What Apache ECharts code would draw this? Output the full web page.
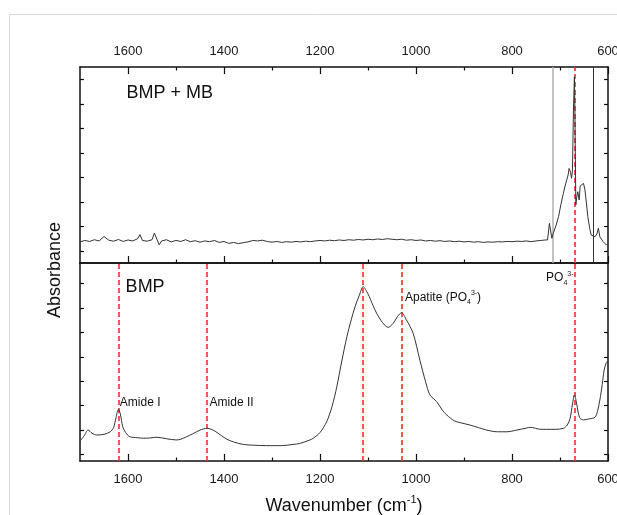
<!DOCTYPE html>
<html>
<head>
<meta charset="utf-8">
<script src="https://cdn.jsdelivr.net/npm/echarts@6/dist/echarts.min.js"></script>
<style>
html,body{margin:0;padding:0;background:#fff;}
#c{width:617px;height:515px;}
</style>
</head>
<body>
<div id="c"></div>
<script>
// ---------- data ----------
const xMajorTicks = [1600, 1400, 1200, 1000, 800, 600];
const xMinorTicks = [1500, 1300, 1100, 900, 700];
const yTicksTop = [0.5, 1.5, 2.5, 3.5, 4.5, 5.5, 6.5, 7.5];
const yTicksBottom = [0.27, 1.26, 2.24, 3.23, 4.21, 5.2, 6.18, 7.17];

// BMP + MB spectrum (wavenumber, absorbance)
const bmpMbWave = [1700,1690,1680,1670,1660,1650,1640,1630,1620,1610,1600,1590,1580,1575,1570,1560,1550,1545,1540,1535,1530,1520,1510,1500,1490,1480,1470,1460,1450,1440,1430,1420,1410,1400,1390,1380,1370,1360,1350,1340,1330,1320,1310,1300,1290,1280,1270,1260,1250,1240,1230,1220,1210,1200,1190,1180,1170,1160,1150,1140,1130,1120,1110,1100,1090,1080,1070,1060,1050,1040,1030,1020,1010,1000,990,980,970,960,950,940,930,920,910,900,890,880,870,860,850,840,830,820,810,800,790,780,770,760,750,740,731,726,722,717,714,708,703,698,693,690,686,683,681,678,676,674,672,670,669,667,665,663,660,658,654,651,648,645,642,638,635,631,627,623,620,617,613,610,606,603,600];
const bmpMbAbs = [0.86,0.92,0.88,0.95,0.90,1.08,0.93,0.89,0.96,0.88,0.94,0.90,0.99,1.16,0.92,0.89,0.95,1.22,0.98,0.74,0.90,0.95,0.86,0.92,0.88,0.95,0.87,0.91,0.85,0.90,0.87,0.92,0.84,0.88,0.80,0.84,0.79,0.83,0.86,0.92,0.90,0.93,0.88,0.85,0.88,0.84,0.87,0.85,0.88,0.86,0.89,0.87,0.90,0.92,0.90,0.93,0.91,0.94,0.92,0.95,0.93,0.96,0.94,0.97,0.95,0.98,0.96,0.99,0.97,0.95,0.97,0.93,0.95,0.92,0.94,0.90,0.92,0.89,0.91,0.88,0.90,0.87,0.89,0.86,0.88,0.85,0.87,0.84,0.86,0.85,0.87,0.86,0.88,0.87,0.89,0.88,0.90,0.87,0.90,0.92,0.94,0.94,1.62,1.01,1.21,1.55,1.89,2.40,2.84,3.10,3.39,3.60,3.86,3.70,3.46,3.80,6.24,7.60,6.24,2.37,2.70,2.91,2.57,3.14,3.20,3.25,2.98,2.45,1.89,1.40,1.14,1.08,1.07,1.20,1.42,1.07,1.14,0.87,0.94,0.73,0.80];

// BMP spectrum (wavenumber, absorbance)
const bmpWave = [1700,1692,1683,1675,1665,1650,1637,1630,1625,1620,1616,1611,1605,1596,1580,1568,1555,1540,1520,1499,1490,1478,1465,1450,1435,1420,1405,1394,1380,1360,1340,1311,1280,1256,1242,1221,1214,1200,1186,1175,1165,1155,1144,1135,1127,1118,1110,1100,1090,1082,1070,1058,1048,1038,1030,1020,1006,992,980,971,957,945,936,920,908,887,870,853,830,811,790,770,762,740,728,710,693,685,679,674,670,666,662,658,651,640,627,622,617,612,608,604,600];
const bmpAbs = [0.81,1.00,1.25,1.12,1.05,1.08,1.18,1.35,1.75,2.09,1.90,1.39,1.15,0.98,0.94,0.92,0.93,0.96,0.90,0.85,0.88,0.98,1.10,1.25,1.32,1.22,1.02,0.88,0.77,0.67,0.64,0.62,0.62,0.67,0.71,0.85,0.92,1.15,1.59,2.20,3.00,4.00,5.02,5.70,6.23,6.70,7.04,6.75,6.30,5.97,5.60,5.40,5.55,5.85,5.99,5.70,5.16,4.08,3.20,2.67,2.40,2.05,1.86,1.62,1.55,1.45,1.35,1.25,1.18,1.18,1.25,1.33,1.36,1.28,1.28,1.28,1.32,1.45,1.72,2.30,2.67,2.40,1.95,1.72,1.66,1.70,1.77,2.00,2.46,3.10,3.68,3.95,4.05];

// reference lines
const topGreyLine = 715;
const topBlackLine = 631;
const bandPO4 = 669;
const bottomBands = [1620, 1435, 1110, 1030, 669];

// ---------- chart ----------
const FONT = '"Liberation Sans", Arial, sans-serif';
const chart = echarts.init(document.getElementById('c'), null, {renderer: 'canvas'});

const zip = (a, b) => a.map((v, i) => [v, b[i]]);

function xAx(grid, pos, opts) {
  return Object.assign({
    type: 'value', gridIndex: grid, position: pos, min: 600, max: 1700, inverse: true,
    splitLine: {show: false},
    axisLine: {show: true, onZero: false, lineStyle: {color: '#111', width: 1.5}},
    axisTick: {show: true, inside: true, length: 7, customValues: xMajorTicks, lineStyle: {color: '#111', width: 1.2}},
    axisLabel: {show: false}
  }, opts);
}
function xMinor(grid, pos) {
  return {
    type: 'value', gridIndex: grid, position: pos, min: 600, max: 1700, inverse: true,
    splitLine: {show: false},
    axisLine: {show: false, onZero: false},
    axisTick: {show: true, inside: true, length: 3.5, customValues: xMinorTicks, lineStyle: {color: '#111', width: 1.2}},
    axisLabel: {show: false}
  };
}
function yAx(grid, pos, ticks) {
  return {
    type: 'value', gridIndex: grid, position: pos, min: 0, max: 8,
    splitLine: {show: false},
    axisLine: {show: true, onZero: false, lineStyle: {color: '#111', width: 1.5}},
    axisTick: {show: true, inside: true, length: 4, customValues: ticks, lineStyle: {color: '#111', width: 1.2}},
    axisLabel: {show: false}
  };
}
const tickLabel = {show: true, customValues: xMajorTicks, fontSize: 13, color: '#1a1a1a', fontFamily: FONT,
  formatter: v => String(v)};

const redLine = {color: '#ff2a2a', type: [5, 3], width: 1.6};

function txt(coord, formatter, size, extraRich) {
  return {
    coord: coord, symbol: 'circle', symbolSize: 1, itemStyle: {color: 'rgba(0,0,0,0)'},
    label: {
      show: true, position: 'right', distance: 0, formatter: formatter,
      fontSize: size, color: '#111', fontFamily: FONT,
      rich: Object.assign({
        n: {fontSize: size, color: '#111', fontFamily: FONT, lineHeight: 16},
        sub: {fontSize: 7, color: '#111', fontFamily: FONT, verticalAlign: 'bottom', lineHeight: 7},
        sup: {fontSize: 7, color: '#111', fontFamily: FONT, verticalAlign: 'top', lineHeight: 7}
      }, extraRich || {})
    }
  };
}

chart.setOption({
  animation: false,
  backgroundColor: '#fff',
  grid: [
    {left: 80, right: 9, top: 67, height: 196, containLabel: false, outerBoundsMode: 'none'},
    {left: 80, right: 9, top: 263, height: 198, containLabel: false, outerBoundsMode: 'none'}
  ],
  xAxis: [
    xAx(0, 'top', {axisLabel: Object.assign({margin: 9}, tickLabel)}),
    xAx(0, 'bottom', {}),
    xMinor(0, 'top'),
    xMinor(0, 'bottom'),
    xAx(1, 'bottom', {
      axisLabel: Object.assign({margin: 12}, tickLabel),
      name: 'Wavenumber (cm{sup|-1})', nameLocation: 'middle', nameGap: 33,
      nameTextStyle: {fontSize: 18, color: '#111', fontFamily: FONT, lineHeight: 24,
        rich: {sup: {fontSize: 11, color: '#111', fontFamily: FONT, verticalAlign: 'top', lineHeight: 11}}}
    }),
    xMinor(1, 'bottom'),
    xAx(1, 'top', {axisTick: {show: false}})
  ],
  yAxis: [
    yAx(0, 'left', yTicksTop),
    yAx(0, 'right', yTicksTop),
    yAx(1, 'left', yTicksBottom),
    yAx(1, 'right', yTicksBottom)
  ],
  series: [
    {
      type: 'line', xAxisIndex: 0, yAxisIndex: 0, data: zip(bmpMbWave, bmpMbAbs),
      showSymbol: false, lineStyle: {color: '#333', width: 1}, z: 5,
      markLine: {
        silent: true, symbol: ['none', 'none'], label: {show: false}, animation: false,
        data: [
          {xAxis: topGreyLine, lineStyle: {color: '#b0b0b0', type: 'solid', width: 1.5}},
          {xAxis: topBlackLine, lineStyle: {color: '#333', type: 'solid', width: 1}},
          {xAxis: bandPO4, lineStyle: redLine}
        ]
      },
      markPoint: {silent: true, data: [txt([1604, 6.94], 'BMP + MB', 18)]}
    },
    {
      type: 'line', xAxisIndex: 4, yAxisIndex: 2, data: zip(bmpWave, bmpAbs),
      showSymbol: false, smooth: 0.3, lineStyle: {color: '#333', width: 1}, z: 5,
      markLine: {
        silent: true, symbol: ['none', 'none'], label: {show: false}, animation: false,
        data: bottomBands.map(b => ({xAxis: b, lineStyle: redLine}))
      },
      markPoint: {silent: true, data: [
        txt([1606, 7.03], 'BMP', 18),
        txt([1618, 2.34], 'Amide I', 12),
        txt([1431, 2.34], 'Amide II', 12),
        txt([1024, 6.59], '{n|Apatite (PO}{sub|4}{sup|3-}{n|)}', 12),
        txt([730, 7.39], '{n|PO}{sub|4}{sup|3-}', 12)
      ]}
    }
  ],
  graphic: [
    {type: 'rect', silent: true, shape: {x: 9.5, y: 14.5, width: 800, height: 800},
     style: {fill: 'none', stroke: '#d9d9d9', lineWidth: 1}},
    {type: 'text', silent: true, x: 55, y: 270, rotation: Math.PI / 2,
     style: {text: 'Absorbance', fontSize: 18, fontFamily: FONT, fill: '#111', align: 'center', verticalAlign: 'middle'}}
  ]
});
</script>
</body>
</html>
